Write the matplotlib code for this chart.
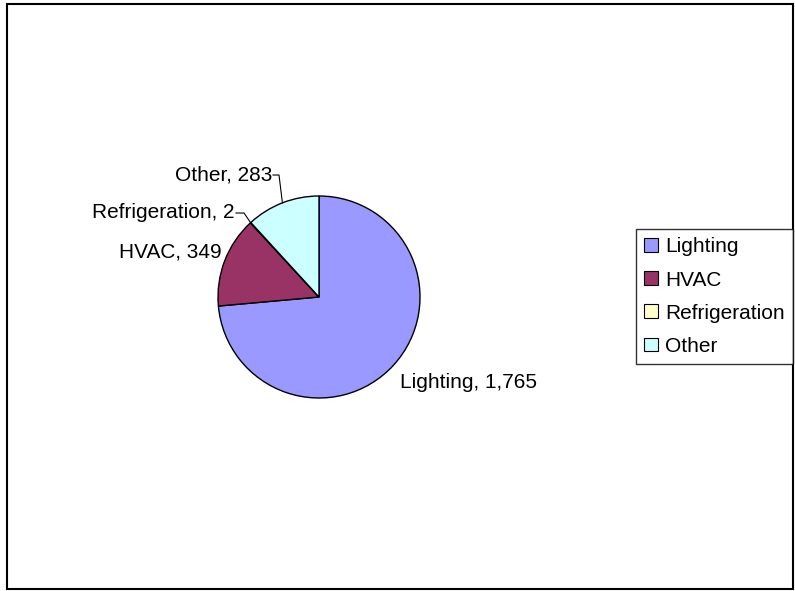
import numpy as np
import matplotlib.pyplot as plt
from matplotlib.patches import Rectangle

labels = ["Lighting", "HVAC", "Refrigeration", "Other"]
values = [1765, 349, 2, 283]
colors = ["#9999FF", "#993366", "#FFFFCC", "#CCFFFF"]

plt.rcParams["font.family"] = ["Liberation Sans", "DejaVu Sans"]

fig = plt.figure(figsize=(7.95, 5.91), dpi=100)
ax = fig.add_axes([0, 0, 1, 1])

# outer chart border
ax.add_patch(Rectangle((7, 2), 786, 585, fill=False, ec="black", lw=1.5))

cx, cy, r = 319, 294, 101
wedges, _ = ax.pie(values, colors=colors, startangle=90, counterclock=False,
                   center=(cx, cy), radius=r, frame=True,
                   wedgeprops=dict(edgecolor="black", linewidth=1))
ax.set_xlim(0, 795)
ax.set_ylim(0, 591)
ax.set_aspect("equal")
ax.axis("off")

def fmt(v):
    return f"{v:,}"

# data labels
ax.text(400, 208, f"{labels[0]}, {fmt(values[0])}", fontsize=15, ha="left", va="center")
ax.text(222, 339, f"{labels[1]}, {fmt(values[1])}", fontsize=15, ha="right", va="center")
ax.text(235, 378, f"{labels[2]}, {fmt(values[2])}", fontsize=15, ha="right", va="center")
ax.text(272, 416, f"{labels[3]}, {fmt(values[3])}", fontsize=15, ha="right", va="center")

# leader lines
def mid_point(w):
    a = np.deg2rad((w.theta1 + w.theta2) / 2)
    return cx + r * np.cos(a), cy + r * np.sin(a)

px, py = mid_point(wedges[2])
ax.plot([236, 244, px], [378, 378, py], color="black", lw=0.8)
px, py = mid_point(wedges[3])
ax.plot([273, 279, px], [416, 416, py], color="black", lw=0.8)

handles = [Rectangle((0, 0), 1, 1, fc=c, ec="black", lw=0.8) for c in colors]
leg = fig.legend(handles, labels, loc="upper left", bbox_to_anchor=(636 / 795, 1 - 229 / 591),
                 fontsize=15, frameon=True, fancybox=False, edgecolor="black",
                 handlelength=0.65, handleheight=0.65, handletextpad=0.35,
                 borderpad=0.4, labelspacing=0.68, borderaxespad=0)
leg.get_frame().set_linewidth(1)

fig.savefig("out.png", dpi=100)
